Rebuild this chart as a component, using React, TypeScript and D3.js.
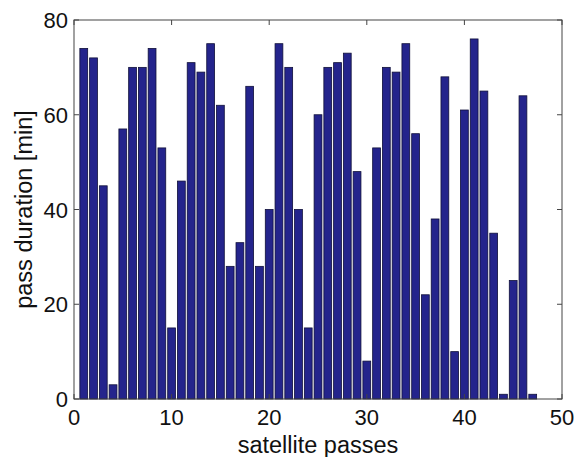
import React from "react";
import * as d3 from "d3";

const passes: number[] = Array.from({ length: 47 }, (_, i) => i + 1);
const durations: number[] = [
  74, 72, 45, 3, 57, 70, 70, 74, 53, 15, 46, 71, 69, 75, 62, 28, 33, 66, 28, 40,
  75, 70, 40, 15, 60, 70, 71, 73, 48, 8, 53, 70, 69, 75, 56, 22, 38, 68, 10, 61,
  76, 65, 35, 1, 25, 64, 1,
];
const xTicks: number[] = [0, 10, 20, 30, 40, 50];
const yTicks: number[] = [0, 20, 40, 60, 80];
const xLabel = "satellite passes";
const yLabel = "pass duration [min]";

export default function App() {
  const W = 585, H = 457;
  const left = 74, right = 562, top = 20, bottom = 399;
  const x = d3.scaleLinear().domain([0, 50]).range([left, right]);
  const y = d3.scaleLinear().domain([0, 80]).range([bottom, top]);
  const bw = (x(1) - x(0)) * 0.8;
  const font = "Liberation Sans, Arial, sans-serif";
  const axisColor = "#444";
  const tl = 5;
  return (
    <svg width={W} height={H} style={{ position: "absolute", left: 0, top: 0, background: "#fff" }}>
      {passes.map((p, i) => (
        <rect
          key={p}
          x={x(p) - bw / 2}
          y={y(durations[i])}
          width={bw}
          height={y(0) - y(durations[i])}
          fill="#24248c"
          stroke="#10103a"
          strokeWidth={0.8}
        />
      ))}
      <rect x={left} y={top} width={right - left} height={bottom - top} fill="none" stroke={axisColor} strokeWidth={1} />
      {xTicks.map((t) => (
        <g key={"x" + t}>
          <line x1={x(t)} x2={x(t)} y1={bottom} y2={bottom - tl} stroke={axisColor} />
          <line x1={x(t)} x2={x(t)} y1={top} y2={top + tl} stroke={axisColor} />
          <text x={x(t)} y={bottom + 26} textAnchor="middle" fontFamily={font} fontSize={22} fill="#111">
            {t}
          </text>
        </g>
      ))}
      {yTicks.map((t) => (
        <g key={"y" + t}>
          <line x1={left} x2={left + tl} y1={y(t)} y2={y(t)} stroke={axisColor} />
          <line x1={right} x2={right - tl} y1={y(t)} y2={y(t)} stroke={axisColor} />
          <text x={left - 6} y={y(t) + 8} textAnchor="end" fontFamily={font} fontSize={22} fill="#111">
            {t}
          </text>
        </g>
      ))}
      <text x={(left + right) / 2} y={453} textAnchor="middle" fontFamily={font} fontSize={23.5} fill="#111">
        {xLabel}
      </text>
      <text
        transform={`translate(32,${(top + bottom) / 2}) rotate(-90)`}
        textAnchor="middle"
        fontFamily={font}
        fontSize={23.5}
        fill="#111"
      >
        {yLabel}
      </text>
    </svg>
  );
}
